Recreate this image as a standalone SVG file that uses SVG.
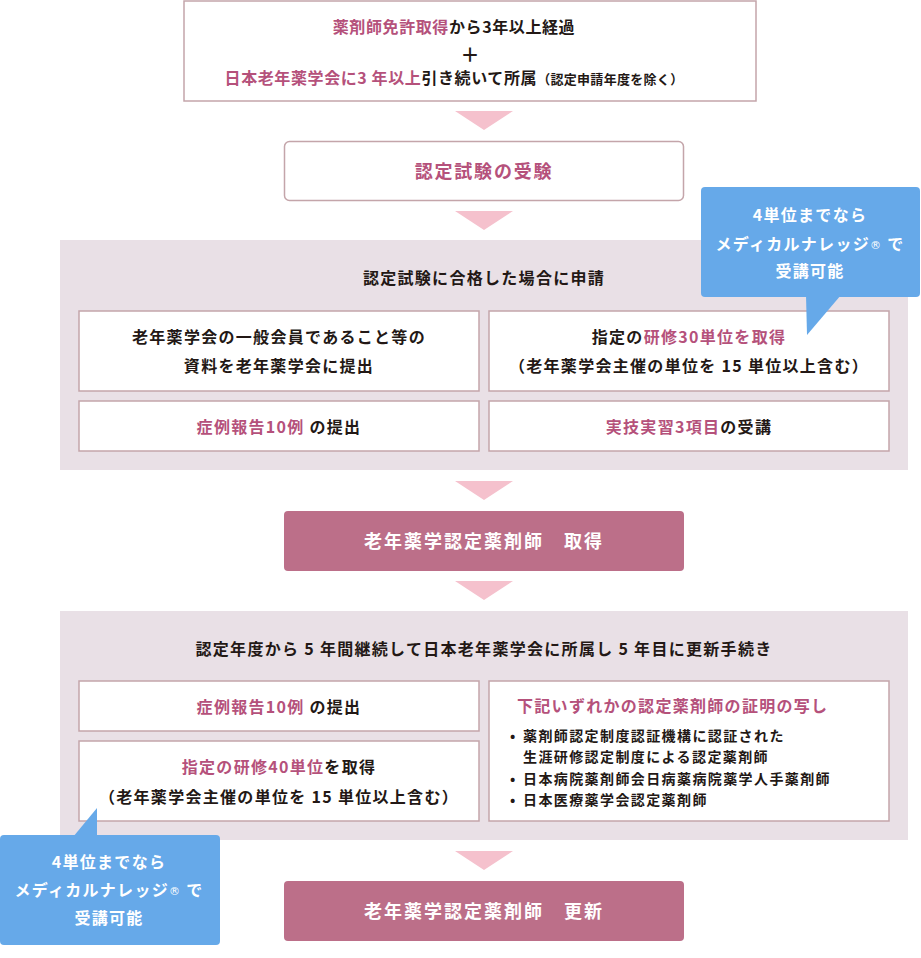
<svg xmlns="http://www.w3.org/2000/svg" width="921" height="958" viewBox="0 0 921 958">
<defs>
<style>
text{font-family:"Noto Sans CJK JP","Noto Sans",sans-serif;fill:#231815;font-weight:700;text-anchor:middle}
.pk{fill:#b5517b}
.w{fill:#ffffff}
.box{fill:#ffffff;stroke:#c4a5aa;stroke-width:1.5}
.panel{fill:#e9e0e6}
.arr{fill:#f5c1cd}
.dk{fill:#bc6f89}
.co{fill:#66a9e9}
.t16{font-size:16px;letter-spacing:1.3px}
.t14{font-size:14px;letter-spacing:1.4px;text-anchor:start}
.sm{font-size:13px;letter-spacing:0.3px}
.r{font-size:11px;font-family:"DejaVu Sans",sans-serif;font-weight:400}
</style>
</defs>
<rect width="921" height="958" fill="#ffffff"/>

<g id="connectors">
<polygon class="arr" points="455,111 513,111 484,130"/>
<polygon class="arr" points="455,211 513,211 484,230"/>
<polygon class="arr" points="455,481 513,481 484,500"/>
<polygon class="arr" points="455,581 513,581 484,600"/>
<polygon class="arr" points="455,851 513,851 484,870"/>
</g>

<g id="node-start">
<rect class="box" x="184" y="1" width="572" height="100"/>
<text class="t16" x="454" y="33" style="letter-spacing:0.6px"><tspan class="pk">薬剤師免許取得</tspan>から3年以上経過</text>
<text x="470" y="62" style="font-size:19px;font-weight:700">＋</text>
<text class="t16" x="454" y="84" style="letter-spacing:0.6px"><tspan class="pk">日本老年薬学会に3 年以上</tspan>引き続いて所属<tspan class="sm">（認定申請年度を除く）</tspan></text>
</g>

<g id="node-exam">
<rect class="box" x="284.5" y="141.5" width="399" height="59" rx="5"/>
<text class="pk" x="484" y="178" style="font-size:18px;letter-spacing:1.8px">認定試験の受験</text>
</g>

<g id="panel-apply">
<rect class="panel" x="60" y="240" width="848" height="230"/>
<text class="t16" x="484" y="284">認定試験に合格した場合に申請</text>
<g id="node-member">
<rect class="box" x="79" y="311" width="400" height="80"/>
<text class="t16" x="279" y="343">老年薬学会の一般会員であること等の</text>
<text class="t16" x="279" y="372">資料を老年薬学会に提出</text>
</g>
<g id="node-training30">
<rect class="box" x="489" y="311" width="400" height="80"/>
<text class="t16" x="689" y="343">指定の<tspan class="pk">研修30単位を取得</tspan></text>
<text class="t16" x="689" y="372">（老年薬学会主催の単位を 15 単位以上含む）</text>
</g>
<g id="node-case1">
<rect class="box" x="79" y="401" width="400" height="50"/>
<text class="t16" x="279" y="433"><tspan class="pk">症例報告10例</tspan> の提出</text>
</g>
<g id="node-practice">
<rect class="box" x="489" y="401" width="400" height="50"/>
<text class="t16" x="689" y="433"><tspan class="pk">実技実習3項目</tspan>の受講</text>
</g>
</g>

<g id="callout-top">
<rect class="co" x="701" y="187" width="219" height="110" rx="4"/>
<polygon class="co" points="806,295 841,295 807,335"/>
<text class="w t16" x="810" y="221">4単位までなら</text>
<text class="w t16" x="810" y="250">メディカルナレッジ<tspan class="r" dy="-1">®</tspan><tspan dy="1"> で</tspan></text>
<text class="w t16" x="810" y="277">受講可能</text>
</g>

<g id="node-acquire">
<rect class="dk" x="284" y="511" width="400" height="60" rx="4"/>
<text class="w" x="484" y="548" style="font-size:18px;letter-spacing:2px">老年薬学認定薬剤師　取得</text>
</g>

<g id="panel-renew">
<rect class="panel" x="60" y="611" width="848" height="229"/>
<text class="t16" x="484" y="655">認定年度から 5 年間継続して日本老年薬学会に所属し 5 年目に更新手続き</text>
<g id="node-case2">
<rect class="box" x="79" y="681" width="400" height="50"/>
<text class="t16" x="279" y="713"><tspan class="pk">症例報告10例</tspan> の提出</text>
</g>
<g id="node-training40">
<rect class="box" x="79" y="741" width="400" height="80"/>
<text class="t16" x="279" y="773"><tspan class="pk">指定の研修40単位</tspan>を取得</text>
<text class="t16" x="279" y="803">（老年薬学会主催の単位を 15 単位以上含む）</text>
</g>
<g id="node-certificate">
<rect class="box" x="489" y="681" width="400" height="140"/>
<text class="pk" x="517" y="712" style="font-size:16px;letter-spacing:1.3px;text-anchor:start">下記いずれかの認定薬剤師の証明の写し</text>
<text class="t14" x="510" y="741">•</text>
<text class="t14" x="523" y="741">薬剤師認定制度認証機構に認証された</text>
<text class="t14" x="523" y="762">生涯研修認定制度による認定薬剤師</text>
<text class="t14" x="510" y="784">•</text>
<text class="t14" x="523" y="784">日本病院薬剤師会日病薬病院薬学人手薬剤師</text>
<text class="t14" x="510" y="805">•</text>
<text class="t14" x="523" y="805">日本医療薬学会認定薬剤師</text>
</g>
</g>

<g id="callout-bottom">
<rect class="co" x="0" y="835" width="220" height="110" rx="4"/>
<polygon class="co" points="73,837 97,837 97,808"/>
<text class="w t16" x="109" y="868">4単位までなら</text>
<text class="w t16" x="109" y="896">メディカルナレッジ<tspan class="r" dy="-1">®</tspan><tspan dy="1"> で</tspan></text>
<text class="w t16" x="109" y="924">受講可能</text>
</g>

<g id="node-renew">
<rect class="dk" x="284" y="881" width="400" height="60" rx="4"/>
<text class="w" x="484" y="918" style="font-size:18px;letter-spacing:2px">老年薬学認定薬剤師　更新</text>
</g>
</svg>
